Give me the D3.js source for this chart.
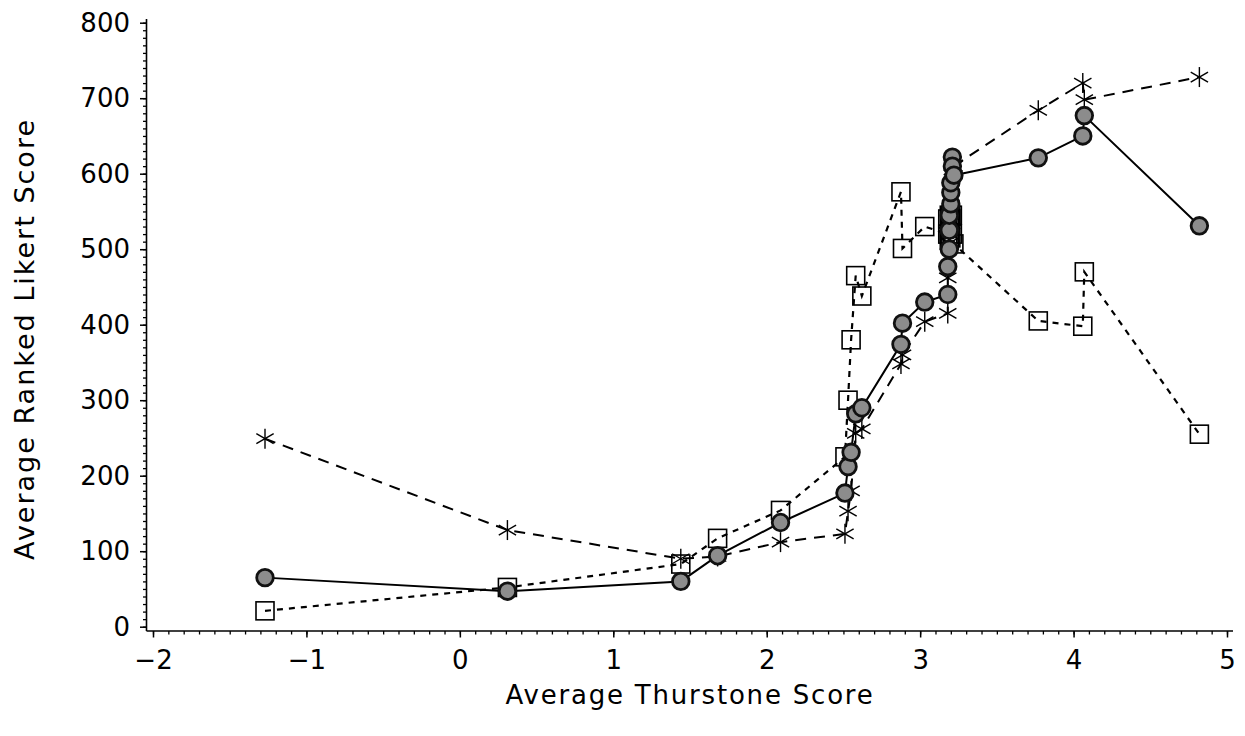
<!DOCTYPE html>
<html><head><meta charset="utf-8">
<script src="https://cdn.jsdelivr.net/npm/d3@7"></script>
<style>body{margin:0;background:#fff}svg{display:block}</style>
</head><body>
<svg id="chart" width="1245" height="736"></svg>
<script>
// Shared x values: average Thurstone score of each item
const thurstone = [-1.27, 0.31, 1.44, 1.68, 2.09, 2.51, 2.53, 2.55, 2.58, 2.62, 2.875, 2.885, 3.03,
  3.18, 3.18, 3.19, 3.19, 3.19, 3.20, 3.20, 3.20, 3.21, 3.21, 3.22,
  3.77, 4.06, 4.07, 4.82];
// Series 1: filled circles, solid line
const likertCircle = [65, 47, 60, 94, 138, 177, 212, 231, 282, 290, 374, 402, 430,
  440, 477, 500, 525, 545, 560, 575, 588, 622, 610, 598,
  621, 650, 677, 531];
// Series 2: open squares, dotted line
const likertSquare = [21, 52, 83, 117, 154, 225, 300, 380, 465, 438, 576, 501, 530,
  520, 540, 520, 545, 512, 545, 540, 515, 545, 520, 507,
  405, 398, 470, 255];
// Series 3: asterisks, dashed line
const likertStar = [249, 128, 90, 93, 112, 123, 153, 180, 256, 262, 348, 360, 404,
  415, 462, 508, 520, 540, 555, 570, 585, 598, 605, 610,
  684, 720, 698, 728];

const xTicks = [-2, -1, 0, 1, 2, 3, 4, 5];
const yTicks = [0, 100, 200, 300, 400, 500, 600, 700, 800];
const xTitle = "Average Thurstone Score";
const yTitle = "Average Ranked Likert Score";

const svg = d3.select("#chart");
const FONT = "'DejaVu Sans', 'Liberation Sans', sans-serif";

const x = d3.scaleLinear().domain([-2, 5]).range([153, 1227]);
const y = d3.scaleLinear().domain([0, 800]).range([626.7, 22.7]);

const axisX = 146.5, axisY = 631;

// axis lines
svg.append("line").attr("x1", axisX).attr("x2", axisX).attr("y1", 19).attr("y2", axisY)
  .attr("stroke", "#000").attr("stroke-width", 1.6);
svg.append("line").attr("x1", axisX).attr("x2", 1233).attr("y1", axisY).attr("y2", axisY)
  .attr("stroke", "#000").attr("stroke-width", 1.6);

// y axis ticks
const yMinor = d3.range(0, 801, 10);
const gy = svg.append("g").attr("transform", `translate(${axisX},0)`);
gy.append("g").call(d3.axisLeft(y).tickValues(yMinor).tickSize(3.5).tickFormat(""))
  .call(g => g.select(".domain").remove())
  .call(g => g.selectAll("line").attr("stroke-width", 1.3));
gy.append("g").call(d3.axisLeft(y).tickValues(yTicks).tickSize(6.5).tickPadding(10).tickFormat(d3.format("d")))
  .call(g => g.select(".domain").remove())
  .call(g => g.selectAll("line").attr("stroke-width", 1.5))
  .call(g => g.selectAll("text").attr("font-family", FONT).attr("font-size", 26).attr("fill", "#000"));

// x axis ticks
const xMinor = d3.range(-20, 51, 1).map(d => d / 10);
const gx = svg.append("g").attr("transform", `translate(0,${axisY})`);
gx.append("g").call(d3.axisBottom(x).tickValues(xMinor).tickSize(3.5).tickFormat(""))
  .call(g => g.select(".domain").remove())
  .call(g => g.selectAll("line").attr("stroke-width", 1.3));
gx.append("g").call(d3.axisBottom(x).tickValues(xTicks).tickSize(6.5).tickPadding(13)
    .tickFormat(d => d < 0 ? "\u2212" + Math.abs(d) : String(d)))
  .call(g => g.select(".domain").remove())
  .call(g => g.selectAll("line").attr("stroke-width", 1.5))
  .call(g => g.selectAll("text").attr("font-family", FONT).attr("font-size", 26).attr("fill", "#000"));

// titles
svg.append("text").attr("x", 690).attr("y", 704).attr("text-anchor", "middle")
  .attr("font-family", FONT).attr("font-size", 26).attr("letter-spacing", 1.8).text(xTitle);
svg.append("text").attr("transform", "translate(34,339) rotate(-90)").attr("text-anchor", "middle")
  .attr("font-family", FONT).attr("font-size", 27).attr("letter-spacing", 2).text(yTitle);

const line = d3.line().x(d => x(d[0])).y(d => y(d[1]));
const pts = vals => thurstone.map((t, i) => [t, vals[i]]);

// asterisk series
const starPts = pts(likertStar);
svg.append("path").attr("d", line(starPts)).attr("fill", "none").attr("stroke", "#000")
  .attr("stroke-width", 2).attr("stroke-dasharray", "11,8");
const starR = 10;
const starG = svg.append("g");
starPts.forEach(p => {
  const cx = x(p[0]), cy = y(p[1]);
  [90, 30, 150].forEach(a => {
    const r = a * Math.PI / 180;
    starG.append("line")
      .attr("x1", cx - starR * Math.cos(r)).attr("y1", cy - starR * Math.sin(r))
      .attr("x2", cx + starR * Math.cos(r)).attr("y2", cy + starR * Math.sin(r))
      .attr("stroke", "#000").attr("stroke-width", 1.4);
  });
});

// square series
const sqPts = pts(likertSquare);
svg.append("path").attr("d", line(sqPts)).attr("fill", "none").attr("stroke", "#000")
  .attr("stroke-width", 2.2).attr("stroke-dasharray", "6,6");
svg.append("g").selectAll("rect").data(sqPts).join("rect")
  .attr("x", d => x(d[0]) - 9).attr("y", d => y(d[1]) - 9)
  .attr("width", 18).attr("height", 18)
  .attr("fill", "none").attr("stroke", "#000").attr("stroke-width", 1.6);

// circle series
const cPts = pts(likertCircle);
svg.append("path").attr("d", line(cPts)).attr("fill", "none").attr("stroke", "#000")
  .attr("stroke-width", 2);
svg.append("g").selectAll("circle").data(cPts).join("circle")
  .attr("cx", d => x(d[0])).attr("cy", d => y(d[1])).attr("r", 8.3)
  .attr("fill", "#8c8c8c").attr("stroke", "#111").attr("stroke-width", 2.8);
</script>
</body></html>
